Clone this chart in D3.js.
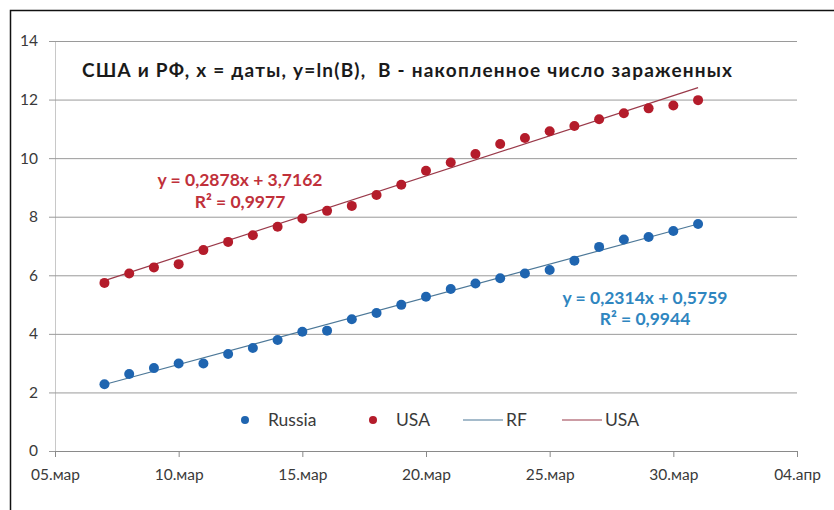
<!DOCTYPE html>
<html>
<head>
<meta charset="utf-8">
<script src="https://cdn.jsdelivr.net/npm/d3@7"></script>
<style>
  body { margin: 0; background: #fff; }
  svg text { font-family: Lato, "Open Sans", sans-serif; }
</style>
</head>
<body>
<div id="vis-container"></div>
<script>
const w = 834
const h = 510

// days of March 2020 (7..31)
const days = [7, 8, 9, 10, 11, 12, 13, 14, 15, 16, 17, 18, 19, 20, 21, 22, 23, 24, 25, 26, 27, 28, 29, 30, 31]
const russia = [2.28, 2.63, 2.83, 2.99, 2.99, 3.31, 3.52, 3.79, 4.07, 4.11, 4.50, 4.71, 4.99, 5.27, 5.53, 5.72, 5.90, 6.06, 6.18, 6.50, 6.97, 7.22, 7.31, 7.51, 7.75]
const usa = [5.74, 6.06, 6.27, 6.38, 6.86, 7.14, 7.37, 7.66, 7.94, 8.20, 8.37, 8.74, 9.09, 9.57, 9.85, 10.14, 10.48, 10.69, 10.92, 11.10, 11.33, 11.53, 11.70, 11.80, 11.98]

// trend line end points [day, value]
const rfTrend = [[7, 2.27], [31, 7.75]]
const usaTrend = [[7, 5.82], [31, 12.41]]

const xTicks = [[3, 5, "05.мар"], [3, 10, "10.мар"], [3, 15, "15.мар"], [3, 20, "20.мар"], [3, 25, "25.мар"], [3, 30, "30.мар"], [4, 4, "04.апр"]]
const yTicks = [0, 2, 4, 6, 8, 10, 12, 14]

const title = "США и РФ, x = даты, y=ln(B),  B - накопленное число зараженных"
const rfEq = ["y = 0,2314x + 0,5759", "R² = 0,9944"]
const usaEq = ["y = 0,2878x + 3,7162", "R² = 0,9977"]

const blue = "#1f65b0"
const red = "#b41c2b"

const day = d => new Date(Date.UTC(2020, 2, d))

const svg = d3.select("#vis-container")
    .append("svg")
    .attr("width", w)
    .attr("height", h)

// outer frame
svg.append("path")
    .attr("d", "M10.5," + h + "V10.5H" + w)
    .attr("fill", "none")
    .attr("stroke", "#111")
    .attr("stroke-width", 1.5)

const xScale = d3.scaleUtc()
    .domain([day(5), new Date(Date.UTC(2020, 3, 4))])
    .range([55, 797])

const yScale = d3.scaleLinear()
    .domain([0, 14])
    .range([451, 41])

// horizontal grid + y labels
const yAxis = d3.axisLeft(yScale)
    .tickValues(yTicks)
    .tickSize(-742)
    .tickPadding(17)
    .tickFormat(d3.format("d"))

svg.append("g")
    .attr("class", "y axis")
    .attr("transform", "translate(55,0)")
    .call(yAxis)
    .call(g => g.select(".domain").attr("stroke", "#c8c8c8").attr("d", "M0.5,41V451"))
    .call(g => g.selectAll("line").attr("stroke", "#9a9a9a").attr("x1", -6))
    .call(g => g.selectAll("text").attr("fill", "#3a3a3a").style("font-size", "15.5px"))

// x axis
const xAxis = d3.axisBottom(xScale)
    .tickValues(xTicks.map(t => new Date(Date.UTC(2020, t[0] - 1, t[1]))))
    .tickSize(6)
    .tickPadding(12)
    .tickFormat((d, i) => xTicks[i][2])

svg.append("g")
    .attr("class", "x axis")
    .attr("transform", "translate(0,451)")
    .call(xAxis)
    .call(g => g.select(".domain").attr("stroke", "#8a8a8a"))
    .call(g => g.selectAll("line").attr("stroke", "#8a8a8a"))
    .call(g => g.selectAll("text").attr("fill", "#3a3a3a").style("font-size", "15.5px"))

// trend lines
const line = d3.line()
    .x(d => xScale(day(d[0])))
    .y(d => yScale(d[1]))

svg.append("path")
    .datum(rfTrend)
    .attr("d", line)
    .attr("fill", "none")
    .attr("stroke", "#4d7898")
    .attr("stroke-width", 1.2)

svg.append("path")
    .datum(usaTrend)
    .attr("d", line)
    .attr("fill", "none")
    .attr("stroke", "#9a3a4a")
    .attr("stroke-width", 1.2)

// dots
svg.selectAll(".dot-ru")
    .data(days)
    .enter()
    .append("circle")
    .attr("class", "dot-ru")
    .attr("r", 5)
    .attr("fill", blue)
    .attr("cx", d => xScale(day(d)))
    .attr("cy", (d, i) => yScale(russia[i]))

svg.selectAll(".dot-us")
    .data(days)
    .enter()
    .append("circle")
    .attr("class", "dot-us")
    .attr("r", 5)
    .attr("fill", red)
    .attr("cx", d => xScale(day(d)))
    .attr("cy", (d, i) => yScale(usa[i]))

// title
svg.append("text")
    .attr("x", 82)
    .attr("y", 77)
    .attr("textLength", 650)
    .attr("lengthAdjust", "spacing")
    .style("font-size", "19px")
    .style("font-weight", "bold")
    .style("white-space", "pre")
    .attr("fill", "#1a1a1a")
    .text(title)

// trend equations
svg.selectAll(".eq-us")
    .data(usaEq)
    .enter()
    .append("text")
    .attr("x", 240)
    .attr("y", (d, i) => 186 + i * 22)
    .attr("text-anchor", "middle")
    .style("font-size", "17.5px")
    .style("font-weight", "bold")
    .attr("fill", "#c0303a")
    .text(d => d)

svg.selectAll(".eq-ru")
    .data(rfEq)
    .enter()
    .append("text")
    .attr("x", 645)
    .attr("y", (d, i) => 304 + i * 21)
    .attr("text-anchor", "middle")
    .style("font-size", "17.5px")
    .style("font-weight", "bold")
    .attr("fill", "#2f86c0")
    .text(d => d)

// legend
const legend = svg.append("g").attr("class", "legend")
legend.append("circle").attr("cx", 245).attr("cy", 420).attr("r", 4).attr("fill", blue)
legend.append("text").attr("x", 268).attr("y", 426).style("font-size", "17.5px").attr("fill", "#3a3a3a").text("Russia")
legend.append("circle").attr("cx", 373).attr("cy", 420).attr("r", 4).attr("fill", red)
legend.append("text").attr("x", 396).attr("y", 426).style("font-size", "17.5px").attr("fill", "#3a3a3a").text("USA")
legend.append("line").attr("x1", 463).attr("x2", 503).attr("y1", 420).attr("y2", 420).attr("stroke", "#4d7898").attr("stroke-width", 1.2)
legend.append("text").attr("x", 506).attr("y", 426).style("font-size", "17.5px").attr("fill", "#3a3a3a").text("RF")
legend.append("line").attr("x1", 562).attr("x2", 602).attr("y1", 420).attr("y2", 420).attr("stroke", "#9a3a4a").attr("stroke-width", 1.2)
legend.append("text").attr("x", 605).attr("y", 426).style("font-size", "17.5px").attr("fill", "#3a3a3a").text("USA")
</script>
</body>
</html>
